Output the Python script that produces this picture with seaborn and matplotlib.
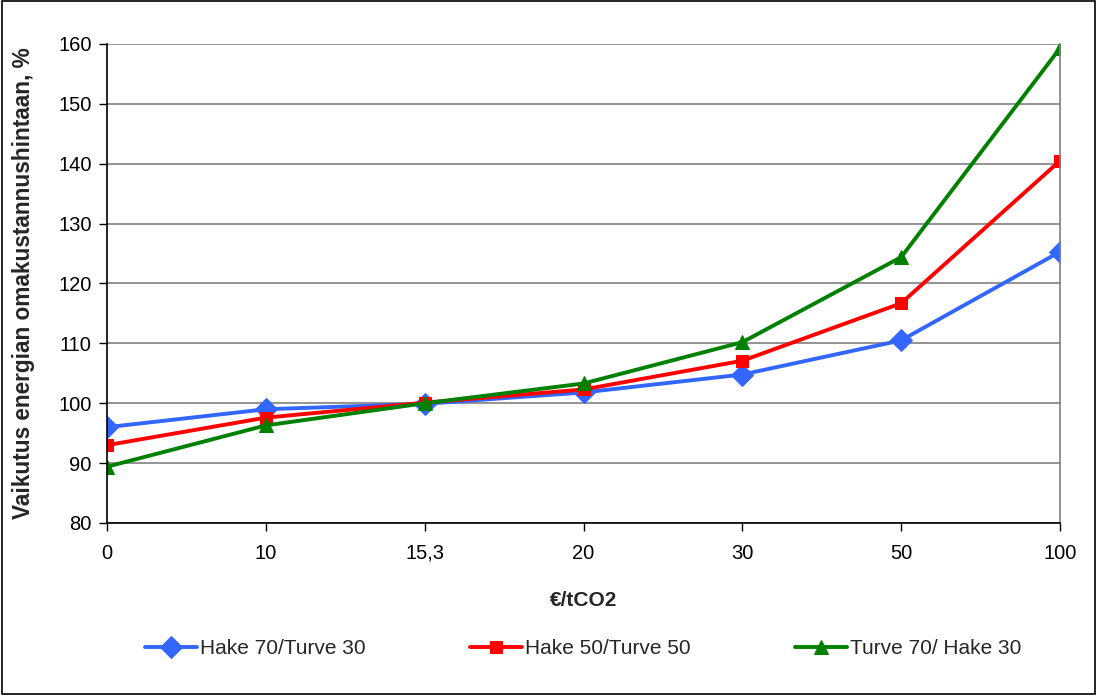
import matplotlib
matplotlib.use("Agg")
import matplotlib.pyplot as plt
import seaborn as sns
import pandas as pd
from matplotlib.patches import Rectangle

categories = ["0", "10", "15,3", "20", "30", "50", "100"]
hake70 = [96.0, 99.0, 99.9, 101.8, 104.8, 110.5, 125.3]
hake50 = [93.0, 97.6, 100.1, 102.3, 107.1, 116.7, 140.5]
turve70 = [89.4, 96.3, 100.0, 103.3, 110.2, 124.4, 159.3]
series_names = ["Hake 70/Turve 30", "Hake 50/Turve 50", "Turve 70/ Hake 30"]
yticks = [80, 90, 100, 110, 120, 130, 140, 150, 160]

sns.set_theme(style="white")
plt.rcParams['font.family'] = ['Liberation Sans', 'DejaVu Sans']

fig = plt.figure(figsize=(10.97, 6.95), dpi=100)
ax = fig.add_axes([107/1097, 1-523/695, (1060-107)/1097, (523-44)/695])

styles = [("#3366FF", "D", 11), ("#FF0000", "s", 8), ("#008000", "^", 9.5)]
for name, vals, (c, m, ms) in zip(series_names, [hake70, hake50, turve70], styles):
    df = pd.DataFrame({"x": categories, "y": vals})
    sns.lineplot(data=df, x="x", y="y", ax=ax, color=c, marker=m, markersize=ms,
                 markeredgecolor=c, linewidth=2.8, label=name, sort=False)

ax.set_xlim(0, len(categories) - 1)
ax.set_ylim(80, 160)
ax.set_yticks(yticks)
ax.set_yticklabels([str(v) for v in yticks], fontsize=14.5)
ax.set_xticks(range(len(categories)))
ax.set_xticklabels(categories, fontsize=14.5)
ax.yaxis.grid(True, color="#808080", linewidth=1.2)
ax.xaxis.grid(False)
ax.set_axisbelow(True)

for s in ["left", "bottom"]:
    ax.spines[s].set_color("black")
    ax.spines[s].set_linewidth(1.2)
ax.spines["top"].set_visible(False)
ax.spines["right"].set_color("#808080")
ax.spines["right"].set_linewidth(1.2)

ax.tick_params(axis="both", which="both", direction="out", length=6, width=1,
               color="black", labelcolor="black", left=True, bottom=True)
ax.tick_params(axis="x", pad=9)
ax.tick_params(axis="y", pad=5)

ax.set_xlabel("€/tCO2", fontsize=15, fontweight="bold")
ax.xaxis.set_label_coords(0.5, -0.142)
ax.set_ylabel("Vaikutus energian omakustannushintaan, %", fontsize=16.3,
              fontweight="bold")
ax.yaxis.set_label_coords(-0.076, 0.5)

ax.legend(loc="center", bbox_to_anchor=(0.5, -0.262), ncol=3, frameon=False,
          fontsize=15, handlelength=2.5, handletextpad=0.15, columnspacing=5.0)

fig.patches.append(Rectangle((0.002, 0.002), 0.996, 0.996, transform=fig.transFigure,
                             fill=False, edgecolor="black", linewidth=1.2))

fig.savefig("out.png", dpi=100)
